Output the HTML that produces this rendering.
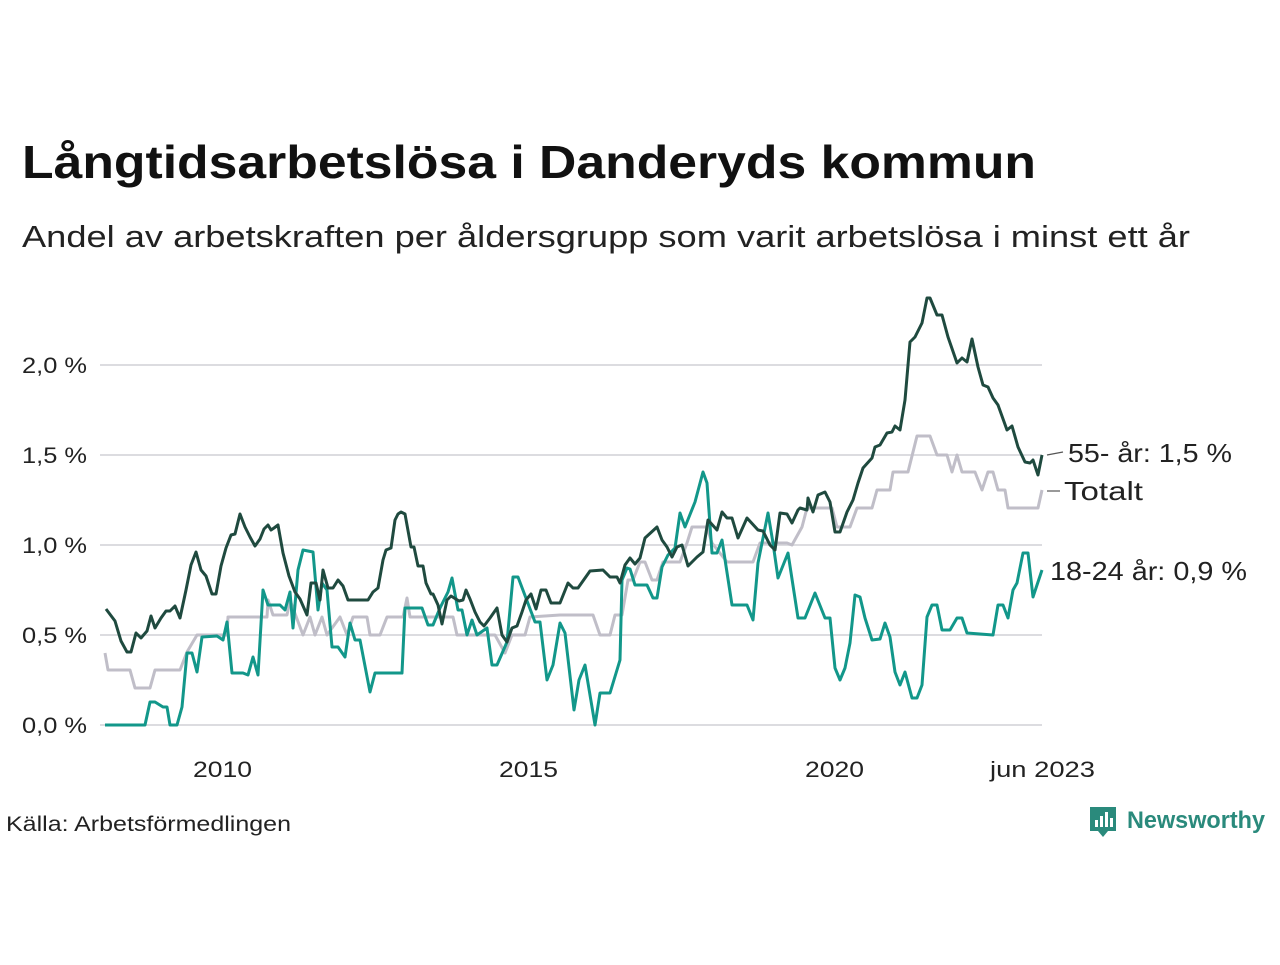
<!DOCTYPE html>
<html><head><meta charset="utf-8"><style>
body{margin:0;width:1280px;height:960px;background:#fff;font-family:"Liberation Sans",sans-serif;}
</style></head><body>
<svg width="1280" height="960" xmlns="http://www.w3.org/2000/svg" font-family="Liberation Sans, DejaVu Sans, sans-serif">
<text x="22" y="178" font-size="46" font-weight="bold" fill="#111" textLength="1014" lengthAdjust="spacingAndGlyphs">Långtidsarbetslösa i Danderyds kommun</text>
<text x="22" y="247" font-size="31" fill="#222" textLength="1168" lengthAdjust="spacingAndGlyphs">Andel av arbetskraften per åldersgrupp som varit arbetslösa i minst ett år</text>
<g stroke="#dcdce0" stroke-width="2">
<line x1="100" y1="365" x2="1042" y2="365"/><line x1="100" y1="455" x2="1042" y2="455"/><line x1="100" y1="545" x2="1042" y2="545"/><line x1="100" y1="635" x2="1042" y2="635"/><line x1="100" y1="725" x2="1042" y2="725"/>
</g>
<g font-size="22" fill="#222">
<text x="22" y="373" textLength="65" lengthAdjust="spacingAndGlyphs">2,0 %</text><text x="22" y="463" textLength="65" lengthAdjust="spacingAndGlyphs">1,5 %</text><text x="22" y="553" textLength="65" lengthAdjust="spacingAndGlyphs">1,0 %</text><text x="22" y="643" textLength="65" lengthAdjust="spacingAndGlyphs">0,5 %</text><text x="22" y="733" textLength="65" lengthAdjust="spacingAndGlyphs">0,0 %</text>
</g>
<g font-size="22" fill="#222">
<text x="193" y="777" textLength="59" lengthAdjust="spacingAndGlyphs">2010</text><text x="499" y="777" textLength="59" lengthAdjust="spacingAndGlyphs">2015</text><text x="805" y="777" textLength="59" lengthAdjust="spacingAndGlyphs">2020</text><text x="990" y="777" textLength="105" lengthAdjust="spacingAndGlyphs">jun 2023</text>
</g>
<g fill="none" stroke-width="3" stroke-linejoin="round">
<polyline stroke="#c0bec8" points="105,653 108,670 130,670 135,688 150,688 155,670 180,670 187,652 197,635 227,635 228,617 267,617 268,600 273,615 287,615 290,600 303,635 310,617 315,635 322,617 327,635 340,617 347,635 353,617 367,617 370,635 380,635 387,617 403,617 407,598 410,617 453,617 457,635 495,635 505,653 512,635 525,635 530,617 560,615 593,615 600,635 610,635 615,615 622,615 628,580 633,580 640,562 645,562 652,580 657,580 663,562 680,562 687,543 692,527 707,527 712,543 727,562 753,562 760,543 787,543 792,545 802,527 807,508 832,508 837,527 850,527 857,508 872,508 877,490 890,490 893,472 908,472 917,436 930,436 937,455 947,455 952,472 957,455 962,472 975,472 982,490 988,472 993,472 998,490 1005,490 1008,508 1038,508 1042,490"/>
<polyline stroke="#12978a" points="105,725 145,725 150,702 155,702 163,707 167,707 170,725 177,725 182,707 187,653 192,653 197,672 202,637 217,636 223,640 227,622 232,673 243,673 248,675 253,657 258,675 263,590 268,605 280,605 285,610 290,592 293,628 298,570 303,550 313,552 318,610 322,583 327,590 332,647 338,647 345,657 350,623 355,640 360,640 370,692 375,673 402,673 405,608 422,608 428,625 433,625 440,608 448,592 452,578 458,610 462,610 467,635 472,620 477,635 487,628 492,665 497,665 507,642 513,577 518,577 535,622 540,622 547,680 553,665 560,623 565,633 574,710 579,680 585,665 595,725 600,693 610,693 620,660 622,580 627,568 630,569 635,585 647,585 653,598 657,598 662,567 668,555 675,548 680,513 685,527 695,502 703,472 707,483 712,553 717,553 722,540 732,605 747,605 753,620 758,563 768,513 773,543 778,578 788,553 798,618 805,618 815,593 825,618 830,618 835,668 840,680 845,668 850,643 855,595 860,597 865,618 872,640 880,639 885,623 890,637 895,672 900,685 905,672 912,698 917,698 922,685 927,617 932,605 937,605 942,630 950,630 957,618 962,618 967,633 993,635 998,605 1003,605 1008,618 1013,590 1017,583 1023,553 1028,553 1033,597 1042,570"/>
<polyline stroke="#1f4a3f" points="106,609 115,621 121,641 127,652 131,652 136,633 141,638 147,631 151,616 155,628 161,618 166,611 170,611 175,606 180,618 186,590 191,565 196,552 201,570 206,576 212,594 216,594 221,566 226,548 231,535 235,534 240,514 245,527 250,537 255,546 260,539 264,529 268,525 271,530 274,528 278,525 283,553 289,576 295,592 300,599 307,615 311,583 316,583 320,600 323,570 328,588 333,588 338,580 343,586 348,600 368,600 373,592 378,588 383,560 386,550 391,548 395,520 398,514 401,512 405,514 411,547 414,547 418,566 423,566 426,583 431,594 433,594 438,605 442,624 447,600 451,596 459,601 463,600 466,590 470,599 475,612 480,622 484,626 490,618 497,608 502,635 507,642 512,628 517,626 522,612 526,600 531,594 536,609 541,590 546,590 551,603 560,603 568,583 573,588 578,588 590,571 603,570 610,577 617,577 620,583 625,565 630,558 635,564 640,558 645,538 657,527 662,540 667,547 672,557 677,547 682,545 688,566 697,557 703,552 708,520 717,530 722,512 727,518 732,518 738,538 747,518 758,530 763,531 770,545 775,550 780,513 787,514 792,523 798,510 800,508 807,510 808,498 813,512 818,495 825,492 830,502 835,532 840,532 847,512 853,500 858,483 863,468 872,458 875,447 880,445 887,433 892,432 895,426 900,430 905,400 910,342 915,337 922,323 927,298 930,298 937,315 942,315 948,337 957,363 962,358 967,362 972,339 978,367 983,385 988,387 993,398 998,405 1007,430 1012,426 1018,447 1025,462 1030,463 1033,460 1038,475 1042,455"/>
</g>
<g stroke="#555" stroke-width="1.2"><line x1="1047" y1="455" x2="1063" y2="452"/><line x1="1047" y1="491" x2="1060" y2="491"/></g>
<g font-size="26" fill="#222">
<text x="1068" y="462" textLength="164" lengthAdjust="spacingAndGlyphs">55- år: 1,5 %</text>
<text x="1064" y="500" textLength="79" lengthAdjust="spacingAndGlyphs">Totalt</text>
<text x="1050" y="580" textLength="197" lengthAdjust="spacingAndGlyphs">18-24 år: 0,9 %</text>
</g>
<text x="6" y="831" font-size="21" fill="#222" textLength="285" lengthAdjust="spacingAndGlyphs">Källa: Arbetsförmedlingen</text>
<g>
<path d="M1090 807 h26 v24 h-8 l-5 6 l-5 -6 h-8 z" fill="#2a8a7c"/>
<rect x="1095" y="820" width="3" height="7" fill="#fff"/><rect x="1100" y="816" width="3" height="11" fill="#fff"/><rect x="1105" y="812" width="3" height="15" fill="#fff"/><rect x="1110" y="818" width="3" height="9" fill="#fff"/>
<text x="1127" y="828" font-size="24" font-weight="bold" fill="#2a8a7c" textLength="138" lengthAdjust="spacingAndGlyphs">Newsworthy</text>
</g>
</svg>
</body></html>
